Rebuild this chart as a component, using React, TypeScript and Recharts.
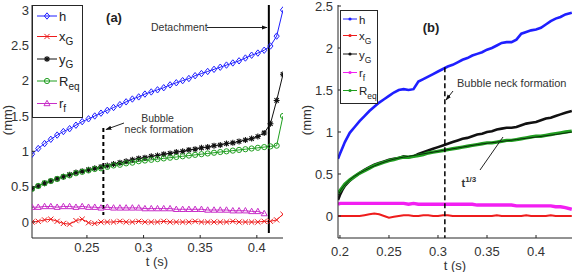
import React from 'react';
import { LineChart, Line, XAxis, YAxis, ReferenceLine, Legend } from 'recharts';

const FONT = '"Liberation Sans", Arial, Helvetica, sans-serif';
const AXIS_COLOR = '#262626';
const TICK_TEXT = '#333333';
const BLUE = '#1f1fff';
const RED = '#ee1c1c';
const BLACK = '#111111';
const GREEN = '#1f9e1f';
const MAGENTA_A = '#c82ec8';
const MAGENTA_B = '#f21ff2';

// ---------- Panel (a): bubble growth, sampled with markers ----------
const timeA = [
  0.2015, 0.207, 0.2126, 0.2181, 0.2237, 0.2292, 0.2347, 0.2403, 0.2458, 0.2514,
  0.2569, 0.2624, 0.268, 0.2735, 0.2791, 0.2846, 0.2901, 0.2957, 0.3012, 0.3068,
  0.3123, 0.3178, 0.3234, 0.3289, 0.3345, 0.34, 0.3455, 0.3511, 0.3566, 0.3622,
  0.3677, 0.3732, 0.3788, 0.3843, 0.3899, 0.3954, 0.4009, 0.4065, 0.412, 0.4175,
  0.4231,
];
const hA = [
  0.96, 1.04, 1.11, 1.17, 1.23, 1.28, 1.32, 1.37, 1.42, 1.46,
  1.5, 1.54, 1.58, 1.62, 1.66, 1.7, 1.74, 1.77, 1.81, 1.84,
  1.87, 1.9, 1.94, 1.97, 2.0, 2.03, 2.07, 2.1, 2.13, 2.16,
  2.19, 2.22, 2.25, 2.28, 2.32, 2.36, 2.39, 2.43, 2.49, 2.63,
  3.0,
];
const xGA = [
  0.0, 0.01, 0.03, 0.04, 0.01, -0.02, -0.03, 0.02, 0.04, -0.01,
  -0.02, 0.0, 0.0, 0.0, 0.01, 0.0, 0.0, 0.01, 0.0, 0.0,
  0.0, 0.01, 0.0, 0.0, 0.0, 0.0, 0.01, 0.0, 0.0, 0.0,
  0.0, 0.0, 0.01, 0.0, 0.0, 0.0, 0.0, 0.01, 0.01, 0.03,
  0.11,
];
const yGA = [
  0.47, 0.51, 0.55, 0.58, 0.61, 0.64, 0.67, 0.7, 0.72, 0.74,
  0.76, 0.78, 0.8, 0.82, 0.84, 0.86, 0.88, 0.9, 0.91, 0.93,
  0.94, 0.96, 0.97, 0.99, 1.0, 1.02, 1.03, 1.05, 1.06, 1.08,
  1.09, 1.11, 1.12, 1.14, 1.16, 1.18, 1.21, 1.26, 1.39, 1.72,
  2.09,
];
const reqA = [
  0.47, 0.51, 0.55, 0.58, 0.61, 0.64, 0.66, 0.69, 0.71, 0.73,
  0.75, 0.76, 0.78, 0.8, 0.81, 0.83, 0.84, 0.86, 0.87, 0.88,
  0.89, 0.9, 0.91, 0.92, 0.93, 0.94, 0.95, 0.96, 0.97, 0.98,
  0.99, 1.0, 1.01, 1.02, 1.03, 1.04, 1.05, 1.06, 1.07, 1.08,
  1.5,
];
const rfA = [
  0.21, 0.21, 0.22, 0.22, 0.21, 0.22, 0.22, 0.21, 0.22, 0.21,
  0.21, 0.2, 0.21, 0.2, 0.2, 0.2, 0.2, 0.2, 0.19, 0.19,
  0.19, 0.19, 0.19, 0.18, 0.18, 0.18, 0.18, 0.18, 0.17, 0.17,
  0.17, 0.17, 0.16, 0.16, 0.16, 0.15, 0.15, 0.12,
];

const xDomainA: [number, number] = [0.2015, 0.4231];
const yDomainA: [number, number] = [-0.226, 3.07];
const xTicksA = [0.25, 0.3, 0.35, 0.4];
const yTicksA = [0, 0.5, 1, 1.5, 2, 2.5, 3];
const neckTimeA = 0.2645;
const neckSpanA: [number, number] = [1.33, 0.1];
const detachTimeA = 0.4106;
const detachSpanA: [number, number] = [3.07, -0.155];

// ---------- Panel (b): dense time series ----------
const timeB = [
  0.198, 0.2, 0.2025, 0.205, 0.21, 0.215, 0.22, 0.225, 0.23, 0.235,
  0.24, 0.245, 0.25, 0.255, 0.26, 0.265, 0.27, 0.275, 0.28, 0.285,
  0.29, 0.295, 0.3, 0.305, 0.31, 0.315, 0.32, 0.325, 0.33, 0.335,
  0.34, 0.345, 0.35, 0.355, 0.36, 0.365, 0.37, 0.375, 0.38, 0.385,
  0.39, 0.395, 0.4, 0.405, 0.41, 0.415, 0.42, 0.425, 0.43, 0.4365,
];
const hB = [
  0.68, 0.74, 0.81, 0.88, 0.99, 1.06, 1.13, 1.19, 1.25, 1.3,
  1.35, 1.39, 1.43, 1.47, 1.5, 1.51, 1.5, 1.51, 1.6, 1.63,
  1.66, 1.69, 1.72, 1.75, 1.78, 1.8, 1.83, 1.86, 1.88, 1.91,
  1.93, 1.95, 1.98, 2.0, 2.03, 2.06, 2.07, 2.07, 2.1, 2.17,
  2.19, 2.21, 2.22, 2.24, 2.28, 2.32, 2.35, 2.37, 2.4, 2.42,
];
const xGB = [
  0.0, 0.0, 0.0, 0.0, 0.0, 0.0, 0.0, 0.01, 0.02, 0.03,
  0.02, 0.0, -0.02, -0.01, 0.0, 0.01, 0.01, 0.0, 0.0, 0.01,
  0.01, 0.0, 0.0, 0.01, 0.01, 0.0, 0.0, 0.0, 0.0, 0.0,
  0.0, 0.0, 0.0, 0.0, 0.01, 0.0, 0.0, 0.0, 0.0, 0.0,
  0.01, 0.0, 0.0, 0.0, 0.0, 0.01, 0.0, 0.0, 0.0, 0.0,
];
const yGB = [
  0.19, 0.25, 0.31, 0.36, 0.42, 0.47, 0.51, 0.55, 0.58, 0.61,
  0.63, 0.65, 0.67, 0.68, 0.69, 0.71, 0.7, 0.71, 0.74, 0.76,
  0.78, 0.8, 0.82, 0.84, 0.86, 0.88, 0.9, 0.92, 0.93, 0.95,
  0.97, 0.98, 1.0, 1.01, 1.03, 1.04, 1.05, 1.05, 1.06, 1.08,
  1.1, 1.11, 1.12, 1.14, 1.16, 1.17, 1.19, 1.21, 1.23, 1.25,
];
const rfB = [
  0.14, 0.15, 0.15, 0.15, 0.15, 0.15, 0.15, 0.15, 0.15, 0.15,
  0.15, 0.15, 0.15, 0.15, 0.15, 0.15, 0.14, 0.15, 0.14, 0.14,
  0.14, 0.14, 0.14, 0.14, 0.14, 0.14, 0.14, 0.14, 0.14, 0.14,
  0.13, 0.13, 0.13, 0.13, 0.13, 0.13, 0.13, 0.13, 0.12, 0.12,
  0.12, 0.12, 0.12, 0.12, 0.12, 0.12, 0.11, 0.11, 0.1, 0.08,
];
const reqB = [
  0.27, 0.3, 0.34, 0.38, 0.43, 0.47, 0.51, 0.54, 0.57, 0.6,
  0.62, 0.64, 0.66, 0.67, 0.69, 0.7, 0.7, 0.71, 0.72, 0.73,
  0.75, 0.76, 0.77, 0.78, 0.79, 0.8, 0.81, 0.82, 0.83, 0.84,
  0.85, 0.86, 0.87, 0.87, 0.88, 0.89, 0.9, 0.9, 0.91, 0.92,
  0.93, 0.94, 0.95, 0.95, 0.96, 0.97, 0.98, 0.99, 1.0, 1.01,
];
// t^(1/3) fit drawn over R_eq
const fitTimeB = [
  0.198, 0.2, 0.205, 0.21, 0.22, 0.23, 0.24, 0.25, 0.26, 0.27,
  0.28, 0.29, 0.3, 0.32, 0.34, 0.36, 0.38, 0.4, 0.42, 0.4365,
];
const fitValB = [
  0.24, 0.29, 0.37, 0.43, 0.51, 0.57, 0.62, 0.66, 0.69, 0.71,
  0.73, 0.75, 0.77, 0.81, 0.85, 0.88, 0.91, 0.94, 0.97, 1.0,
];

const xDomainB: [number, number] = [0.198, 0.4367];
const yDomainB: [number, number] = [-0.262, 2.512];
const xTicksB = [0.2, 0.25, 0.3, 0.35, 0.4];
const yTicksB = [0, 0.5, 1, 1.5, 2, 2.5];
const neckTimeB = 0.307;
const neckSpanB: [number, number] = [1.77, -0.262];

type Kind = 'diamond' | 'x' | 'star' | 'circle' | 'triangle' | 'dot';
type Series = { key: string; base: string; sub?: string; color: string; kind: Kind; width?: number };

const seriesA: Series[] = [
  { key: 'h', base: 'h', color: BLUE, kind: 'diamond' },
  { key: 'xG', base: 'x', sub: 'G', color: RED, kind: 'x' },
  { key: 'yG', base: 'y', sub: 'G', color: BLACK, kind: 'star' },
  { key: 'req', base: 'R', sub: 'eq', color: GREEN, kind: 'circle' },
  { key: 'rf', base: 'r', sub: 'f', color: MAGENTA_A, kind: 'triangle' },
];
const seriesB: Series[] = [
  { key: 'h', base: 'h', color: BLUE, kind: 'dot', width: 2.6 },
  { key: 'xG', base: 'x', sub: 'G', color: RED, kind: 'dot', width: 2 },
  { key: 'yG', base: 'y', sub: 'G', color: BLACK, kind: 'dot', width: 2.6 },
  { key: 'rf', base: 'r', sub: 'f', color: MAGENTA_B, kind: 'dot', width: 3.4 },
  { key: 'req', base: 'R', sub: 'eq', color: GREEN, kind: 'dot', width: 3.4 },
];

const rowsA = timeA.map((t, i) => ({
  t,
  h: hA[i],
  xG: xGA[i],
  yG: yGA[i],
  req: reqA[i],
  rf: i < rfA.length ? rfA[i] : null,
}));
const rowsB = timeB.map((t, i) => ({ t, h: hB[i], xG: xGB[i], yG: yGB[i], rf: rfB[i], req: reqB[i] }));
const fitRowsB = fitTimeB.map((t, i) => ({ t, fit: fitValB[i] }));

function renderMarker(kind: Kind, color: string, cx: number, cy: number, key?: string | number) {
  const s = 2.6;
  switch (kind) {
    case 'diamond':
      return (
        <path key={key} d={`M${cx},${cy - 3.2}L${cx + 2.6},${cy}L${cx},${cy + 3.2}L${cx - 2.6},${cy}Z`}
          fill="none" stroke={color} strokeWidth={1} />
      );
    case 'x':
      return (
        <path key={key} d={`M${cx - s},${cy - s}L${cx + s},${cy + s}M${cx - s},${cy + s}L${cx + s},${cy - s}`}
          stroke={color} strokeWidth={1} />
      );
    case 'star':
      return (
        <path key={key}
          d={`M${cx - 3},${cy}L${cx + 3},${cy}M${cx},${cy - 3}L${cx},${cy + 3}M${cx - 2.2},${cy - 2.2}L${cx + 2.2},${cy + 2.2}M${cx - 2.2},${cy + 2.2}L${cx + 2.2},${cy - 2.2}`}
          stroke={color} strokeWidth={1.1} />
      );
    case 'circle':
      return <circle key={key} cx={cx} cy={cy} r={2.6} fill="none" stroke={color} strokeWidth={1} />;
    case 'triangle':
      return (
        <path key={key} d={`M${cx},${cy - 3.2}L${cx + 3},${cy + 2.2}L${cx - 3},${cy + 2.2}Z`}
          fill="none" stroke={color} strokeWidth={1} />
      );
    default:
      return <circle key={key} cx={cx} cy={cy} r={1.6} fill={color} />;
  }
}

const markerDot = (kind: Kind, color: string) => (props: any) => {
  const { cx, cy, index } = props;
  if (cx == null || cy == null || Number.isNaN(cx) || Number.isNaN(cy) || props.value == null) {
    return <g key={`m-${index}`} />;
  }
  return renderMarker(kind, color, cx, cy, `m-${index}`);
};

const TICK_LEN = 3;
const tickLabel = (v: number) => String(v);

const bottomTick = (gap: number) => (props: any) => {
  const { x, y, payload } = props;
  return (
    <g>
      <line x1={x} y1={y} x2={x} y2={y - TICK_LEN} stroke={AXIS_COLOR} strokeWidth={1} />
      <text x={x} y={y + gap} textAnchor="middle" fontSize={13} fontFamily={FONT} fill={TICK_TEXT}>
        {tickLabel(payload.value)}
      </text>
    </g>
  );
};
const leftTick = (gap: number) => (props: any) => {
  const { x, y, payload } = props;
  return (
    <g>
      <line x1={x} y1={y} x2={x + TICK_LEN} y2={y} stroke={AXIS_COLOR} strokeWidth={1} />
      <text x={x - gap} y={y + 4.6} textAnchor="end" fontSize={13} fontFamily={FONT} fill={TICK_TEXT}>
        {tickLabel(payload.value)}
      </text>
    </g>
  );
};
const topTick = (props: any) => {
  const { x, y } = props;
  return <line x1={x} y1={y} x2={x} y2={y + TICK_LEN} stroke={AXIS_COLOR} strokeWidth={1} />;
};
const rightTick = (props: any) => {
  const { x, y } = props;
  return <line x1={x} y1={y} x2={x - TICK_LEN} y2={y} stroke={AXIS_COLOR} strokeWidth={1} />;
};

const axisLine = { stroke: AXIS_COLOR, strokeWidth: 1 };

type LegendLayout = {
  width: number;
  height: number;
  rows: number[];
  lineX: [number, number];
  textX: number;
  fontSize: number;
  subSize: number;
};

function LegendBox({ items, layout }: { items: Series[]; layout: LegendLayout }) {
  const { width, height, rows, lineX, textX, fontSize, subSize } = layout;
  return (
    <svg width={width} height={height} style={{ display: 'block', overflow: 'visible' }}>
      <rect x={0.5} y={0.5} width={width - 1} height={height - 1} fill="#ffffff" stroke={AXIS_COLOR} strokeWidth={1} />
      {items.map((s, i) => (
        <g key={s.key}>
          <line x1={lineX[0]} x2={lineX[1]} y1={rows[i]} y2={rows[i]} stroke={s.color} strokeWidth={1} />
          {renderMarker(s.kind, s.color, (lineX[0] + lineX[1]) / 2, rows[i])}
          <text x={textX} y={rows[i] + 4.5} fontSize={fontSize} fontFamily={FONT} fill="#222">
            {s.base}
            {s.sub ? (
              <tspan dy={4} fontSize={subSize}>
                {s.sub}
              </tspan>
            ) : null}
          </text>
        </g>
      ))}
    </svg>
  );
}

const legendLayoutA: LegendLayout = {
  width: 51, height: 113, rows: [11, 31.5, 54, 76, 98.5], lineX: [5, 25], textX: 27, fontSize: 13, subSize: 10,
};
const legendLayoutB: LegendLayout = {
  width: 38, height: 94, rows: [9, 25.5, 44, 62.5, 80.5], lineX: [3, 17], textX: 19, fontSize: 11.5, subSize: 8.5,
};

function PanelA() {
  return (
    <LineChart width={290} height={272} data={rowsA} margin={{ top: 5, right: 7, bottom: 0, left: 0 }}>
      <XAxis dataKey="t" type="number" domain={xDomainA} ticks={xTicksA} allowDataOverflow height={34}
        tickSize={0} tickMargin={0} interval={0} axisLine={axisLine} tickLine={false} tick={bottomTick(14)} />
      <XAxis xAxisId="top" orientation="top" type="number" domain={xDomainA} ticks={xTicksA} allowDataOverflow
        height={0} tickSize={0} tickMargin={0} interval={0} axisLine={axisLine} tickLine={false} tick={topTick} />
      <YAxis type="number" domain={yDomainA} ticks={yTicksA} allowDataOverflow width={32}
        tickSize={0} tickMargin={0} interval={0} axisLine={axisLine} tickLine={false} tick={leftTick(3)} />
      <YAxis yAxisId="right" orientation="right" type="number" domain={yDomainA} ticks={yTicksA} allowDataOverflow
        width={0} tickSize={0} tickMargin={0} interval={0} axisLine={axisLine} tickLine={false} tick={rightTick} />
      {seriesA.map((s) => (
        <Line key={s.key} dataKey={s.key} type="linear" stroke={s.color} strokeWidth={1}
          dot={markerDot(s.kind, s.color)} activeDot={false} isAnimationActive={false} connectNulls={false} />
      ))}
      <ReferenceLine segment={[{ x: neckTimeA, y: neckSpanA[0] }, { x: neckTimeA, y: neckSpanA[1] }]}
        stroke="#000" strokeWidth={2} strokeDasharray="4 3" ifOverflow="visible" />
      <ReferenceLine segment={[{ x: detachTimeA, y: detachSpanA[0] }, { x: detachTimeA, y: detachSpanA[1] }]}
        stroke="#000" strokeWidth={2} ifOverflow="visible" />
      <Legend layout="vertical" align="center" verticalAlign="middle"
        wrapperStyle={{ left: 32, top: 5, width: legendLayoutA.width, height: legendLayoutA.height }}
        content={() => <LegendBox items={seriesA} layout={legendLayoutA} />} />
    </LineChart>
  );
}

function PanelB() {
  return (
    <LineChart width={283} height={272} data={rowsB} margin={{ top: 5, right: 1, bottom: 0, left: 0 }}>
      <XAxis dataKey="t" type="number" domain={xDomainB} ticks={xTicksB} allowDataOverflow height={34}
        tickSize={0} tickMargin={0} interval={0} axisLine={axisLine} tickLine={false} tick={bottomTick(17.5)} />
      <XAxis xAxisId="top" orientation="top" type="number" domain={xDomainB} ticks={xTicksB} allowDataOverflow
        height={0} tickSize={0} tickMargin={0} interval={0} axisLine={axisLine} tickLine={false} tick={topTick} />
      <YAxis type="number" domain={yDomainB} ticks={yTicksB} allowDataOverflow width={48}
        tickSize={0} tickMargin={0} interval={0} axisLine={axisLine} tickLine={false} tick={leftTick(5)} />
      <YAxis yAxisId="right" orientation="right" type="number" domain={yDomainB} ticks={yTicksB} allowDataOverflow
        width={0} tickSize={0} tickMargin={0} interval={0} axisLine={axisLine} tickLine={false} tick={rightTick} />
      {seriesB.map((s) => (
        <Line key={s.key} dataKey={s.key} type="linear" stroke={s.color} strokeWidth={s.width}
          dot={false} activeDot={false} isAnimationActive={false} />
      ))}
      <Line data={fitRowsB} dataKey="fit" type="monotone" stroke="#0b2a0b" strokeWidth={1}
        dot={false} activeDot={false} isAnimationActive={false} />
      <ReferenceLine segment={[{ x: neckTimeB, y: neckSpanB[0] }, { x: neckTimeB, y: neckSpanB[1] }]}
        stroke="#000" strokeWidth={1.5} strokeDasharray="5 3" ifOverflow="visible" />
      <Legend layout="vertical" align="center" verticalAlign="middle"
        wrapperStyle={{ left: 50, top: 10, width: legendLayoutB.width, height: legendLayoutB.height }}
        content={() => <LegendBox items={seriesB} layout={legendLayoutB} />} />
    </LineChart>
  );
}

function Annotations() {
  const txt = { fontFamily: FONT, fill: '#333' } as const;
  return (
    <svg width={573} height={272} style={{ position: 'absolute', left: 0, top: 0, pointerEvents: 'none' }}>
      <defs>
        <marker id="arrowHead" viewBox="0 0 10 10" refX="9" refY="5" markerWidth="6" markerHeight="6" orient="auto">
          <path d="M0,1.5L10,5L0,8.5Z" fill="#111" />
        </marker>
      </defs>
      {/* panel (a) */}
      <text x={114} y={21.5} textAnchor="middle" fontSize={13} fontWeight="bold" {...txt} fill="#222">(a)</text>
      <text x={151} y={31} fontSize={10.5} {...txt}>Detachment</text>
      <line x1={207} y1={27.5} x2={267} y2={27.5} stroke="#222" strokeWidth={1} markerEnd="url(#arrowHead)" />
      <text x={157.5} y={122} textAnchor="middle" fontSize={10.5} {...txt}>Bubble</text>
      <text x={159} y={133} textAnchor="middle" fontSize={10.5} {...txt}>neck formation</text>
      <line x1={124} y1={123} x2={106} y2={129.5} stroke="#222" strokeWidth={1} markerEnd="url(#arrowHead)" />
      <text x={12} y={120} textAnchor="middle" fontSize={13} transform="rotate(-90 12 120)" {...txt}>(mm)</text>
      <text x={157} y={266} textAnchor="middle" fontSize={13} {...txt}>t (s)</text>
      {/* panel (b) */}
      <text x={431} y={31.5} textAnchor="middle" fontSize={13} fontWeight="bold" {...txt} fill="#222">(b)</text>
      <text x={457} y={87} fontSize={11} {...txt}>Bubble neck formation</text>
      <line x1={453} y1={91} x2={446} y2={100} stroke="#222" strokeWidth={1} markerEnd="url(#arrowHead)" />
      <text x={461.5} y={187} fontSize={11} fontWeight="bold" {...txt}>
        t<tspan dy={-5} fontSize={8}>1/3</tspan>
      </text>
      <line x1={480} y1={170} x2={503} y2={137} stroke="#222" strokeWidth={1} />
      <text x={311} y={120} textAnchor="middle" fontSize={13} transform="rotate(-90 311 120)" {...txt}>(mm)</text>
      <text x={455} y={270} textAnchor="middle" fontSize={13} {...txt}>t (s)</text>
    </svg>
  );
}

export default function App() {
  return (
    <div style={{ position: 'absolute', left: 0, top: 0, width: 573, height: 272, background: '#fff', overflow: 'hidden' }}>
      <div style={{ position: 'absolute', left: 0, top: 0 }}>
        <PanelA />
      </div>
      <div style={{ position: 'absolute', left: 290, top: 0 }}>
        <PanelB />
      </div>
      <Annotations />
    </div>
  );
}
